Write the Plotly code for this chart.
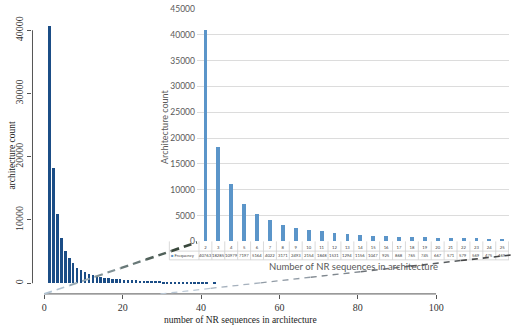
import plotly.graph_objects as go

# ---------------- data ----------------
sizes_main = list(range(2, 45))
counts_main = [40763, 18285, 10979, 7197, 5164, 4022, 3171, 2493, 2154, 1848, 1531,
               1294, 1156, 1047, 925, 868, 765, 745, 667, 571, 579, 569, 475, 469,
               430, 400, 380, 350, 330, 300, 290, 270, 250, 230, 220, 200, 190, 180,
               170, 160, 150, 0, 130]

inset_labels = [str(v) for v in range(2, 26)]
inset_counts = [40763, 18285, 10979, 7197, 5164, 4022, 3171, 2493, 2154, 1848, 1531,
                1294, 1156, 1047, 925, 868, 765, 745, 667, 571, 579, 569, 475, 469]

main_xticks = [0, 20, 40, 60, 80, 100]
main_yticks = [0, 10000, 20000, 30000, 40000]
inset_yticks = list(range(0, 45001, 5000))

W, H = 520, 332
def px(x):
    return x / W
def py(y):
    return (H - y) / H

SERIF = "Liberation Serif"
SANS = "Lato"
GRAY = "#595959"

fig = go.Figure()

# main histogram-like bars
bw = 0.62
fig.add_trace(go.Bar(x=sizes_main, y=counts_main, width=bw, offset=-0.5 - bw / 2,
                     marker=dict(color="#1b4d86", line=dict(width=0)),
                     xaxis="x", yaxis="y", showlegend=False, hoverinfo="x+y"))

# inset bars
fig.add_trace(go.Bar(x=inset_labels, y=inset_counts, width=0.3,
                     marker=dict(color="#5b95c9", line=dict(width=0)),
                     xaxis="x2", yaxis="y2", showlegend=False))

shapes = []
annotations = []

def ann(**kw):
    kw.setdefault("showarrow", False)
    kw.setdefault("xanchor", "center")
    kw.setdefault("yanchor", "middle")
    annotations.append(kw)

# main axis lines (R style, spanning tick range only)
shapes.append(dict(type="line", xref="x", yref="paper", x0=0, x1=100,
                   y0=py(298), y1=py(298), line=dict(color="#555555", width=1)))
shapes.append(dict(type="line", xref="paper", yref="y", x0=px(33), x1=px(33),
                   y0=0, y1=40000, line=dict(color="#555555", width=1)))

# table lines under the inset
tbl_top, tbl_mid, tbl_bot = 244, 254, 263
tcol = "#d0d0d0"
for yy in (tbl_mid, tbl_bot):
    shapes.append(dict(type="line", xref="paper", yref="paper", x0=px(172), x1=px(517),
                       y0=py(yy), y1=py(yy), line=dict(color=tcol, width=0.8)))
shapes.append(dict(type="line", xref="paper", yref="paper", x0=px(172), x1=px(172),
                   y0=py(tbl_top), y1=py(tbl_bot), line=dict(color=tcol, width=0.8)))
for i in range(len(inset_labels) + 1):
    shapes.append(dict(type="line", xref="x2", yref="paper", x0=i - 0.5, x1=i - 0.5,
                       y0=py(tbl_top), y1=py(tbl_bot), line=dict(color=tcol, width=0.8)))

# frequency row values (category index positions)
for i, v in enumerate(inset_counts):
    ann(x=i, y=py(258.5), xref="x2", yref="paper", text=str(v),
        font=dict(family=SANS, size=4.2, color="#404040"))
ann(x=px(186), y=py(258.5), xref="paper", yref="paper",
    text="<span style='color:#5b95c9'>■</span> Frequency",
    font=dict(family=SANS, size=4.2, color="#404040"))

# dashed connector lines with colour gradient
def grad_line(x0, y0, x1, y1, c0, c1, w0, w1, n, dash):
    for k in range(n):
        t0, t1 = k / n, (k + 1) / n
        tm = (t0 + t1) / 2
        col = "rgb(%d,%d,%d)" % tuple(int(c0[j] + (c1[j] - c0[j]) * tm) for j in range(3))
        shapes.append(dict(type="line", xref="paper", yref="paper",
                           x0=px(x0 + (x1 - x0) * t0), y0=py(y0 + (y1 - y0) * t0),
                           x1=px(x0 + (x1 - x0) * t1), y1=py(y0 + (y1 - y0) * t1),
                           line=dict(color=col, width=w0 + (w1 - w0) * tm, dash=dash)))

grad_line(45, 298, 200, 245, (190, 208, 225), (45, 60, 45), 1.6, 2.8, 6, "8px,5px")
grad_line(163, 298, 519, 258, (195, 210, 225), (60, 60, 60), 1.2, 1.6, 7, "6px,5px")

# titles
ann(x=px(244), y=py(325), xref="paper", yref="paper", text="number of NR sequences in architecture",
    font=dict(family=SERIF, size=9.5, color="#222222"))
ann(x=px(12), y=py(155), xref="paper", yref="paper", text="architecture count", textangle=-90,
    font=dict(family=SERIF, size=9.5, color="#222222"))
ann(x=px(359), y=py(270), xref="paper", yref="paper", text="Number of NR sequences in architecture",
    font=dict(family=SANS, size=9.5, color=GRAY))
ann(x=px(167), y=py(126), xref="paper", yref="paper", text="Architecture count", textangle=-90,
    font=dict(family=SANS, size=9, color=GRAY))

y2_top_px = 5 - 100 * (239 / 45000)

fig.update_layout(
    width=W, height=H, margin=dict(l=0, r=0, t=0, b=0),
    paper_bgcolor="white", plot_bgcolor="rgba(0,0,0,0)",
    bargap=0, showlegend=False,
    xaxis=dict(domain=[px(33), px(443)], range=[-3.015, 100], tickvals=main_xticks,
               ticks="outside", ticklen=4, tickcolor="#555555", showgrid=False, zeroline=False,
               showline=False, tickfont=dict(family=SERIF, size=10, color="#333333"), anchor="y"),
    yaxis=dict(domain=[py(298), py(10)], range=[-1692, 42615], tickvals=main_yticks,
               tickformat="d", ticklabeloverflow="allow",
               ticks="outside", ticklen=4, tickcolor="#555555", showgrid=False, zeroline=False,
               showline=False, tickangle=-90, tickfont=dict(family=SERIF, size=10, color="#333333"),
               anchor="x"),
    xaxis2=dict(domain=[px(200), px(517)], type="category", anchor="y2", showgrid=False,
                zeroline=False, showline=False, ticks="", ticklabelstandoff=2,
                tickfont=dict(family=SANS, size=4.2, color="#404040"), tickangle=0),
    yaxis2=dict(domain=[py(244), py(y2_top_px)], range=[0, 45100], tickvals=inset_yticks, anchor="x2",
                tickformat="d", ticklabeloverflow="allow",
                showgrid=True, gridcolor="#dcdcdc", gridwidth=1, zeroline=False, showline=False,
                ticks="", ticklabelstandoff=1, tickfont=dict(family=SANS, size=8.5, color=GRAY)),
    shapes=shapes, annotations=annotations,
)

post = ("document.documentElement.style.margin='0';document.documentElement.style.padding='0';"
        "document.documentElement.style.overflow='hidden';"
        "document.body.style.margin='0';document.body.style.padding='0';"
        "document.body.style.overflow='hidden';")
fig.write_html("out.html", config={"displayModeBar": False}, post_script=post)
